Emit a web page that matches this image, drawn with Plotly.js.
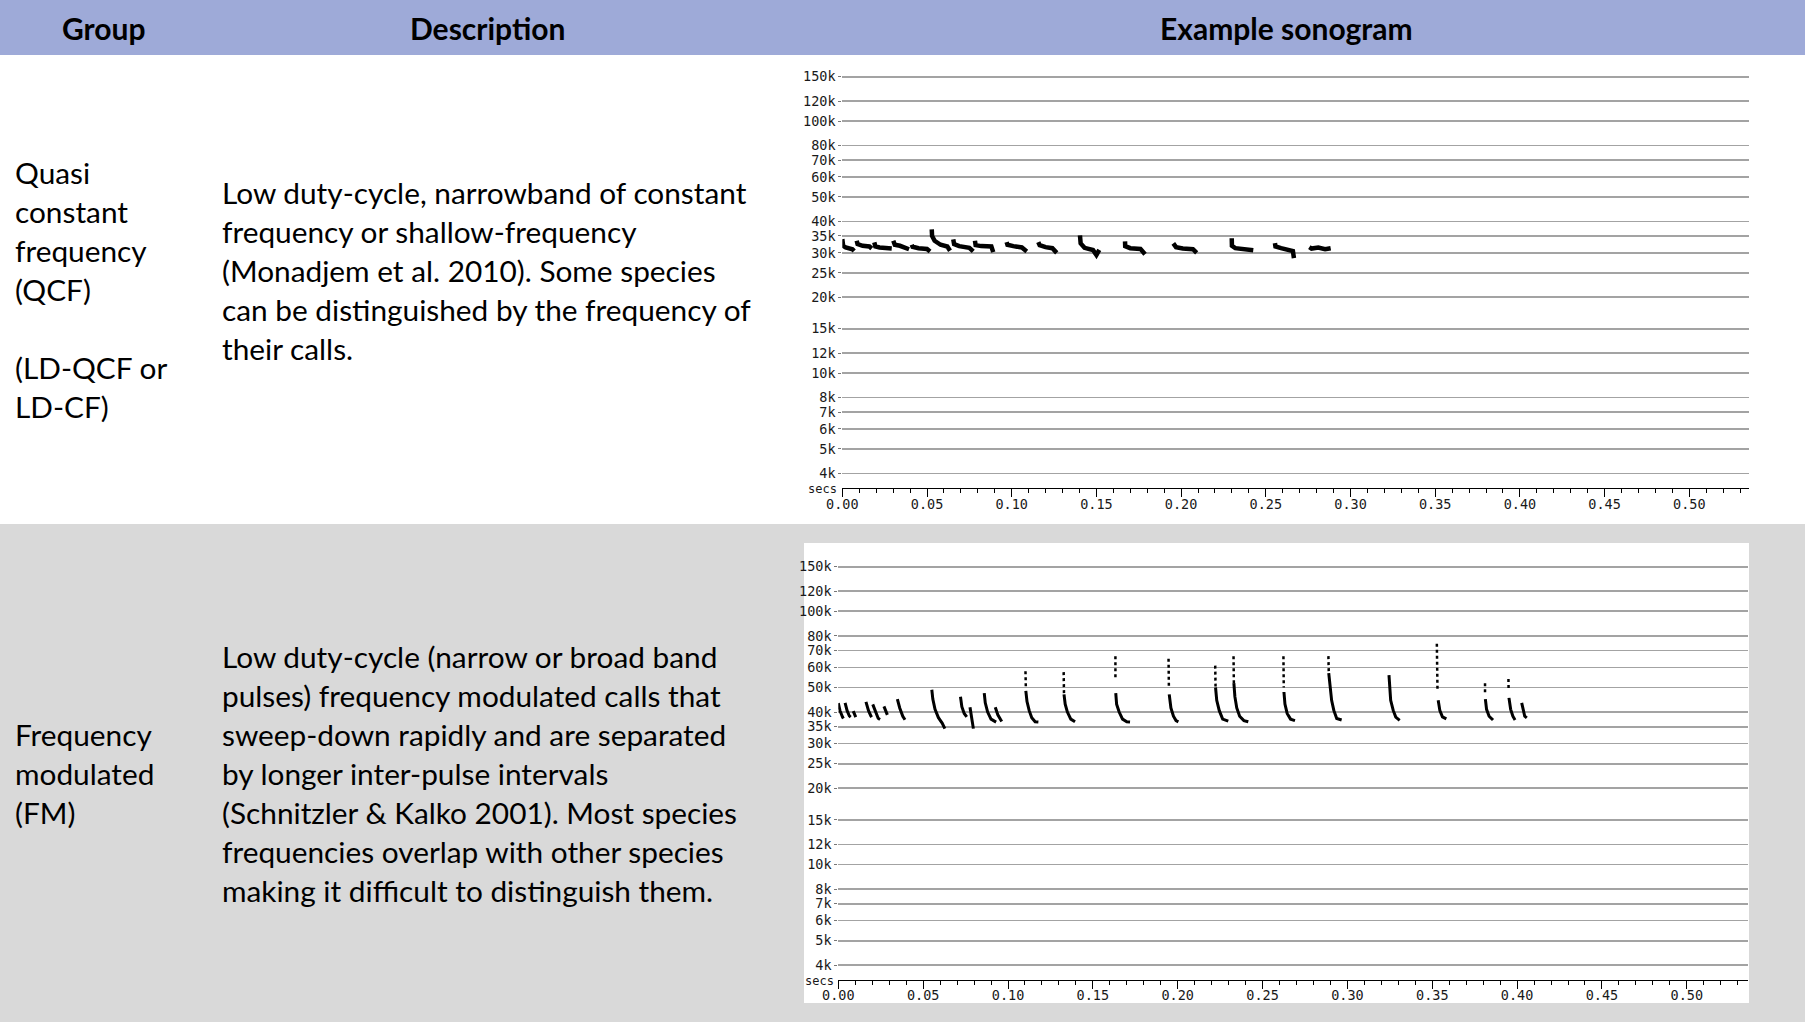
<!DOCTYPE html>
<html>
<head>
<meta charset="utf-8">
<script src="https://cdn.plot.ly/plotly-3.0.1.min.js"></script>
<style>
  html, body { margin: 0; padding: 0; background: #ffffff; }
  #chart { width: 1805px; height: 1022px; }
</style>
</head>
<body>
<div id="chart"></div>
<script>
// ---- Table text ----
const headerLabels = ['Group', 'Description', 'Example sonogram'];

const qcfGroupLines = ['Quasi', 'constant', 'frequency', '(QCF)', '', '(LD-QCF or', 'LD-CF)'];
const qcfDescLines = [
  'Low duty-cycle, narrowband of constant',
  'frequency or shallow-frequency',
  '(Monadjem et al. 2010). Some species',
  'can be distinguished by the frequency of',
  'their calls.'
];
const fmGroupLines = ['Frequency', 'modulated', '(FM)'];
const fmDescLines = [
  'Low duty-cycle (narrow or broad band',
  'pulses) frequency modulated calls that',
  'sweep-down rapidly and are separated',
  'by longer inter-pulse intervals',
  '(Schnitzler & Kalko 2001). Most species',
  'frequencies overlap with other species',
  'making it difficult to distinguish them.'
];

// ---- Sonogram axes ----
const freqTicks = [4, 5, 6, 7, 8, 10, 12, 15, 20, 25, 30, 35, 40, 50, 60, 70, 80, 100, 120, 150]; // kHz
const freqTickText = ['4k', '5k', '6k', '7k', '8k', '10k', '12k', '15k', '20k', '25k', '30k', '35k',
                      '40k', '50k', '60k', '70k', '80k', '100k', '120k', '150k'];

// ---- QCF calls: [time s, frequency kHz] ----
const qcfCalls = [
  [[0.0000, 34.0], [0.0005, 32.0], [0.0020, 31.5], [0.0040, 31.2], [0.0060, 31.0], [0.0070, 30.5]],
  [[0.0085, 33.5], [0.0090, 32.5], [0.0120, 32.0], [0.0160, 31.8], [0.0174, 31.2]],
  [[0.0189, 33.0], [0.0195, 31.8], [0.0220, 31.5], [0.0280, 31.4], [0.0292, 31.2]],
  [[0.0301, 33.5], [0.0310, 32.3], [0.0340, 32.0], [0.0370, 31.6], [0.0394, 31.0]],
  [[0.0410, 32.3], [0.0415, 31.7], [0.0450, 31.3], [0.0500, 31.1], [0.0518, 30.4]],
  [[0.0528, 37.2], [0.0530, 35.0], [0.0545, 33.5], [0.0580, 32.3], [0.0620, 31.8], [0.0636, 30.6]],
  [[0.0655, 33.9], [0.0660, 32.5], [0.0690, 31.9], [0.0750, 31.4], [0.0773, 30.4]],
  [[0.0783, 33.5], [0.0787, 32.2], [0.0820, 31.9], [0.0880, 31.8], [0.0891, 30.2]],
  [[0.0970, 33.1], [0.0975, 32.3], [0.1010, 31.9], [0.1060, 31.5], [0.1089, 30.4]],
  [[0.1157, 33.1], [0.1165, 32.2], [0.1200, 31.6], [0.1240, 31.3], [0.1266, 30.0]],
  [[0.1403, 35.2], [0.1405, 34.0], [0.1407, 32.7], [0.1430, 31.4], [0.1480, 30.8], [0.1500, 29.4], [0.1517, 30.8]],
  [[0.1669, 33.3], [0.1670, 31.9], [0.1700, 31.3], [0.1760, 31.1], [0.1787, 29.6]],
  [[0.1954, 32.7], [0.1970, 31.6], [0.2010, 31.2], [0.2070, 31.0], [0.2092, 30.0]],
  [[0.2299, 34.3], [0.2300, 32.0], [0.2320, 31.3], [0.2380, 30.9], [0.2426, 30.7]],
  [[0.2554, 32.8], [0.2557, 31.8], [0.2590, 31.3], [0.2640, 30.8], [0.2660, 30.5], [0.2666, 28.6]],
  [[0.2757, 31.6], [0.2770, 31.2], [0.2810, 31.5], [0.2850, 31.0], [0.2883, 31.3]]
];

// ---- FM calls: faint upper sweep (sparse) and dense lower sweep, [time s, frequency kHz] ----
const fmFaintSweeps = [
  [[0.1103, 58.0], [0.1105, 50.5]],
  [[0.1328, 57.5], [0.1330, 47.0]],
  [[0.1633, 66.5], [0.1633, 53.5]],
  [[0.1946, 65.0], [0.1948, 50.5]],
  [[0.2221, 61.0], [0.2223, 50.5]],
  [[0.2329, 66.5], [0.2331, 52.0]],
  [[0.2623, 66.5], [0.2625, 50.0]],
  [[0.2888, 66.5], [0.2890, 57.5]],
  [[0.3527, 74.5], [0.3531, 48.5]],
  [[0.3811, 52.0], [0.3811, 47.5]],
  [[0.3949, 54.0], [0.3950, 48.5]]
];
const fmDenseSweeps = [
  [[0.0000, 43.4], [0.0010, 40.5], [0.0025, 38.2], [0.0030, 37.7]],
  [[0.0040, 43.5], [0.0052, 40.5], [0.0065, 38.6], [0.0073, 38.2]],
  [[0.0088, 40.3], [0.0100, 38.6], [0.0103, 38.2]],
  [[0.0163, 43.9], [0.0178, 40.5], [0.0192, 38.6], [0.0197, 38.2]],
  [[0.0203, 42.9], [0.0218, 40.2], [0.0235, 37.8], [0.0246, 37.4]],
  [[0.0269, 42.1], [0.0280, 40.0], [0.0289, 39.0]],
  [[0.0348, 45.0], [0.0362, 41.5], [0.0380, 38.5], [0.0393, 37.3]],
  [[0.0551, 49.0], [0.0557, 45.0], [0.0570, 41.0], [0.0590, 38.0], [0.0612, 36.2], [0.0628, 34.4]],
  [[0.0720, 46.0], [0.0728, 42.0], [0.0742, 39.5], [0.0757, 38.3]],
  [[0.0776, 41.8], [0.0785, 38.5], [0.0790, 36.5], [0.0796, 34.4]],
  [[0.0860, 47.5], [0.0866, 43.5], [0.0880, 40.0], [0.0900, 37.5], [0.0930, 36.5]],
  [[0.0925, 41.8], [0.0940, 39.0], [0.0963, 36.7]],
  [[0.1105, 48.5], [0.1112, 44.0], [0.1125, 40.5], [0.1140, 38.0], [0.1160, 36.6], [0.1179, 36.5]],
  [[0.1330, 47.0], [0.1337, 43.0], [0.1350, 40.0], [0.1370, 37.5], [0.1395, 36.6]],
  [[0.1635, 47.5], [0.1640, 43.0], [0.1655, 40.0], [0.1675, 37.5], [0.1700, 36.6], [0.1719, 36.5]],
  [[0.1950, 47.0], [0.1960, 41.5], [0.1975, 38.5], [0.1990, 37.0], [0.2004, 36.6]],
  [[0.2223, 50.0], [0.2230, 44.5], [0.2245, 40.5], [0.2265, 37.5], [0.2298, 36.8]],
  [[0.2331, 52.0], [0.2337, 46.0], [0.2348, 41.5], [0.2365, 38.5], [0.2390, 37.0], [0.2416, 36.6]],
  [[0.2626, 48.0], [0.2632, 43.0], [0.2645, 39.5], [0.2665, 37.5], [0.2691, 37.0]],
  [[0.2890, 57.0], [0.2897, 50.5], [0.2907, 44.5], [0.2920, 40.6], [0.2937, 37.7], [0.2966, 37.2]],
  [[0.3245, 56.0], [0.3249, 50.0], [0.3255, 44.5], [0.3270, 40.6], [0.3285, 38.2], [0.3308, 37.1]],
  [[0.3535, 44.5], [0.3545, 40.5], [0.3560, 38.3], [0.3583, 37.6]],
  [[0.3813, 45.0], [0.3820, 41.0], [0.3835, 38.5], [0.3858, 37.2]],
  [[0.3952, 45.5], [0.3962, 41.0], [0.3975, 38.5], [0.3988, 37.2]],
  [[0.4027, 43.5], [0.4035, 40.5], [0.4045, 38.5], [0.4057, 37.9]]
];

// ---- Page geometry (pixels) ----
const W = 1805, H = 1022;
const px = v => v / W;          // pixel x -> paper x
const py = v => 1 - v / H;      // pixel y (from top) -> paper y

const TEXT_FONT = 'Lato, "Open Sans", sans-serif';
const MONO_FONT = '"DejaVu Sans Mono", "Liberation Mono", monospace';

function sweepTrace(points, xa, ya, width, dash) {
  return {
    type: 'scatter',
    mode: 'lines',
    x: points.map(p => p[0]),
    y: points.map(p => p[1]),
    xaxis: xa, yaxis: ya,
    line: { color: '#000000', width: width, dash: dash || 'solid' },
    hoverinfo: 'skip',
    showlegend: false
  };
}

const traces = [];
qcfCalls.forEach(c => traces.push(sweepTrace(c, 'x', 'y', 4.5)));
fmFaintSweeps.forEach(c => traces.push(sweepTrace(c, 'x2', 'y2', 2.5, 'dot')));
fmDenseSweeps.forEach(c => traces.push(sweepTrace(c, 'x2', 'y2', 3)));

function freqAxis(domain, range) {
  return {
    type: 'log',
    domain: domain,
    range: range,
    tickmode: 'array',
    tickvals: freqTicks,
    ticktext: freqTickText,
    showgrid: true,
    gridcolor: '#a3a3a3',
    gridwidth: 1.6,
    ticks: 'outside',
    ticklen: 3,
    tickcolor: '#777777',
    tickfont: { family: MONO_FONT, size: 13.5, color: '#1a1a1a' },
    showline: false,
    zeroline: false,
    fixedrange: true
  };
}

function timeAxis(domain, range, anchor) {
  return {
    domain: domain,
    range: range,
    anchor: anchor,
    tick0: 0,
    dtick: 0.05,
    tickformat: '.2f',
    ticks: 'outside',
    ticklen: 8,
    tickwidth: 1,
    tickcolor: '#000000',
    ticklabelstandoff: -5,
    minor: { dtick: 0.01, ticks: 'outside', ticklen: 4, tickcolor: '#000000', tickwidth: 1, showgrid: false },
    showline: true,
    linecolor: '#000000',
    linewidth: 1,
    showgrid: false,
    zeroline: false,
    tickfont: { family: MONO_FONT, size: 13.5, color: '#1a1a1a' },
    fixedrange: true
  };
}

// ---- Background bands ----
const shapes = [
  { type: 'rect', xref: 'paper', yref: 'paper', x0: 0, x1: 1, y0: py(55), y1: 1,
    fillcolor: '#9eaad8', line: { width: 0 }, layer: 'below' },
  { type: 'rect', xref: 'paper', yref: 'paper', x0: 0, x1: 1, y0: py(524), y1: py(55),
    fillcolor: '#ffffff', line: { width: 0 }, layer: 'below' },
  { type: 'rect', xref: 'paper', yref: 'paper', x0: 0, x1: 1, y0: 0, y1: py(524),
    fillcolor: '#d9d9d9', line: { width: 0 }, layer: 'below' },
  { type: 'rect', xref: 'paper', yref: 'paper', x0: px(804), x1: px(1749), y0: py(1003), y1: py(543),
    fillcolor: '#ffffff', line: { width: 0 }, layer: 'below' }
];

// ---- Text ----
const annotations = [];
function textLine(text, x, y, size, bold, anchor) {
  annotations.push({
    text: bold ? '<b>' + text + '</b>' : text,
    xref: 'paper', yref: 'paper',
    x: px(x), y: py(y),
    xanchor: anchor || 'left', yanchor: 'middle',
    showarrow: false,
    font: { family: TEXT_FONT, size: size, color: '#000000' }
  });
}
const headerCentres = [104, 487, 1286];
headerLabels.forEach((t, i) => textLine(t, headerCentres[i], 28, 30, true, 'center'));

const LINE = 39.1;
const BODY = 29.8;
qcfGroupLines.forEach((t, i) => { if (t) textLine(t, 12.5, 172.3 + i * LINE, BODY); });
qcfDescLines.forEach((t, i) => textLine(t, 219.5, 192.3 + i * LINE, BODY));
fmGroupLines.forEach((t, i) => textLine(t, 12.5, 734.5 + i * LINE, BODY));
fmDescLines.forEach((t, i) => textLine(t, 219.5, 656.2 + i * LINE, BODY));

// time-axis unit labels
annotations.push({ text: 'secs', xref: 'paper', yref: 'paper', x: px(822), y: py(489),
  xanchor: 'center', yanchor: 'middle', showarrow: false,
  font: { family: MONO_FONT, size: 12, color: '#1a1a1a' } });
annotations.push({ text: 'secs', xref: 'paper', yref: 'paper', x: px(819), y: py(981),
  xanchor: 'center', yanchor: 'middle', showarrow: false,
  font: { family: MONO_FONT, size: 12, color: '#1a1a1a' } });

const layout = {
  width: W, height: H,
  margin: { l: 0, r: 0, t: 0, b: 0, pad: 0 },
  paper_bgcolor: '#ffffff',
  plot_bgcolor: 'rgba(0,0,0,0)',
  showlegend: false,
  xaxis: timeAxis([842.3 / W, 1749 / W], [0, 0.53524], 'y'),
  yaxis: freqAxis([py(488.3), py(66)], [0.54276, 2.21855]),
  xaxis2: timeAxis([838.3 / W, 1748 / W], [0, 0.53606], 'y2'),
  yaxis2: Object.assign(freqAxis([py(980), py(556)], [0.54378, 2.21835]), { anchor: 'x2' }),
  shapes: shapes,
  annotations: annotations
};
layout.yaxis.anchor = 'x';

Plotly.newPlot('chart', traces, layout, { staticPlot: true, displayModeBar: false });
</script>
</body>
</html>
